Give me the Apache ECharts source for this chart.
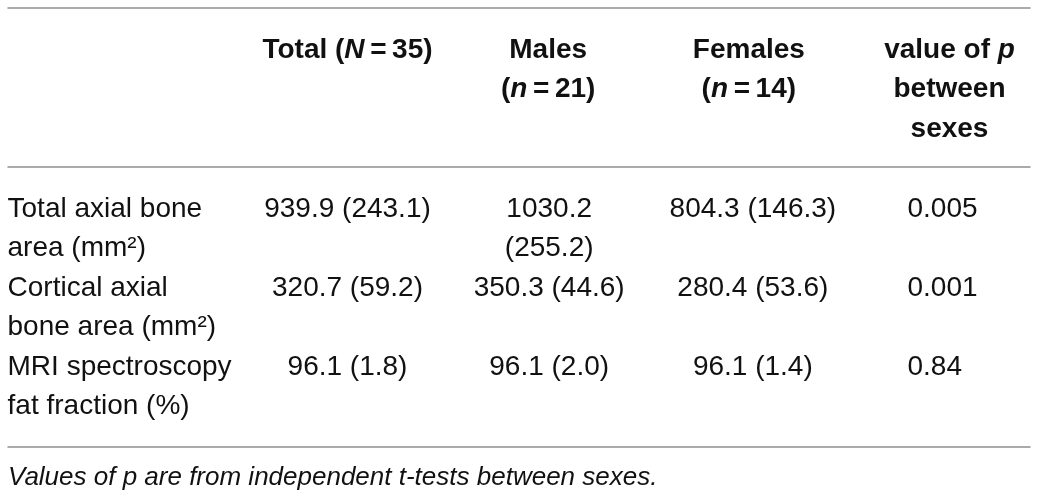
<!DOCTYPE html>
<html>
<head>
<meta charset="utf-8">
<script src="https://cdn.jsdelivr.net/npm/echarts/dist/echarts.min.js"></script>
<style>html,body{margin:0;padding:0;background:#fff}#c{width:1037px;height:498px}</style>
</head>
<body>
<div id="c"></div>
<script>
// ---- table content ----
const headers = ['Total (*N*\u2009=\u200935)', 'Males\n(*n*\u2009=\u200921)', 'Females\n(*n*\u2009=\u200914)', 'value of *p*\nbetween\nsexes'];
const rowLabels = ['Total axial bone\narea (mm\u00b2)', 'Cortical axial\nbone area (mm\u00b2)', 'MRI spectroscopy\nfat fraction (%)'];
const totalValues = ['939.9 (243.1)', '320.7 (59.2)', '96.1 (1.8)'];
const malesValues = ['1030.2\n(255.2)', '350.3 (44.6)', '96.1 (2.0)'];
const femalesValues = ['804.3 (146.3)', '280.4 (53.6)', '96.1 (1.4)'];
const pValues = ['0.005', '0.001', '0.84'];
const footnote = 'Values of p are from independent t-tests between sexes.';

const FONT = '"Liberation Sans", Arial, Helvetica, sans-serif';
const RULE = { show: true, onZero: false, lineStyle: { color: '#8e8e8e', width: 1.5 } };
const BODY_SIZE = 28, HEAD_SIZE = 28, LINE_H = 39;
const TEXT_COLOR = '#111';

function toRich(s) {
  return s.split('\n').map(line =>
    line.split(/\*([^*]+)\*/).map((part, k) =>
      part === '' ? '' : (k % 2 ? '{bi|' + part + '}' : '{b|' + part + '}')
    ).join('')
  ).join('\n');
}

function hiddenX(gridIndex, position, showLine) {
  return {
    type: 'value', gridIndex, position, min: -0.6944, max: 4.3986,
    axisLine: showLine ? RULE : { show: false },
    axisTick: { show: false }, axisLabel: { show: false }, splitLine: { show: false }
  };
}

const headerSeries = {
  type: 'scatter', xAxisIndex: 0, yAxisIndex: 0, symbolSize: 1, silent: true,
  itemStyle: { color: 'transparent', opacity: 1 },
  data: headers.map((h, i) => ({
    value: [i + 1, 0],
    label: { formatter: toRich(h) }
  })),
  label: {
    show: true, position: [0, 0], align: 'center', verticalAlign: 'top',
    offset: [0, 23], lineHeight: 39.5, color: TEXT_COLOR,
    textBorderWidth: 0,
    rich: {
      b: { fontFamily: FONT, fontWeight: 'bold', fontSize: HEAD_SIZE, color: TEXT_COLOR, lineHeight: 39.5 },
      bi: { fontFamily: FONT, fontWeight: 'bold', fontStyle: 'italic', fontSize: HEAD_SIZE, color: TEXT_COLOR, lineHeight: 39.5 }
    }
  }
};

function bodySeries(values, col, align, dx) {
  return {
    type: 'scatter', xAxisIndex: 1, yAxisIndex: 1, symbolSize: 1, silent: true,
    itemStyle: { color: 'transparent', opacity: 1 },
    data: values.map((v, r) => ({ value: [col, r], name: v })),
    label: {
      show: true, formatter: '{b}', position: [0, 0], align, verticalAlign: 'top',
      offset: [dx, -LINE_H / 2], lineHeight: LINE_H, textBorderWidth: 0,
      fontFamily: FONT, fontSize: BODY_SIZE, color: TEXT_COLOR
    }
  };
}

const chart = echarts.init(document.getElementById('c'), null, { renderer: 'canvas' });
chart.setOption({
  animation: false,
  backgroundColor: '#fff',
  title: {
    text: footnote, left: 8, top: 465, padding: 0,
    textStyle: { fontFamily: FONT, fontStyle: 'italic', fontWeight: 'normal', fontSize: 26, color: TEXT_COLOR }
  },
  grid: [
    { left: 8, right: 7, top: 8, height: 159 },
    { left: 8, right: 7, top: 167, height: 280 }
  ],
  xAxis: [hiddenX(0, 'top', true), hiddenX(1, 'top', true), hiddenX(1, 'bottom', true)],
  yAxis: [
    { type: 'value', gridIndex: 0, min: 0, max: 1, inverse: true, show: false },
    { type: 'value', gridIndex: 1, min: -0.5443, max: 3.0, inverse: true, show: false }
  ],
  series: [
    headerSeries,
    bodySeries(rowLabels, 0, 'left', -139.3),
    bodySeries(totalValues, 1, 'center', 0),
    bodySeries(malesValues, 2, 'center', 1),
    bodySeries(femalesValues, 3, 'center', 4),
    bodySeries(pValues, 4, 'left', -42)
  ]
});
</script>
</body>
</html>
